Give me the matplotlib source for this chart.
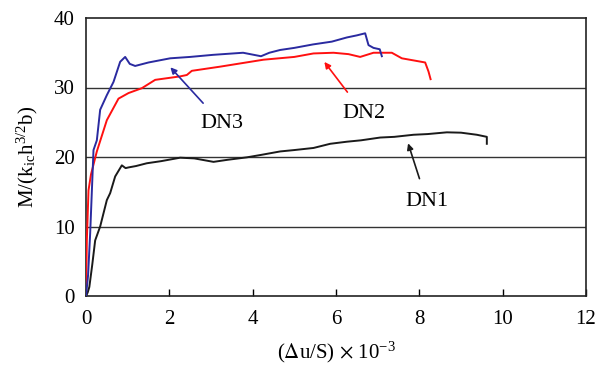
import matplotlib.pyplot as plt

plt.rcParams['font.family'] = ['Liberation Serif', 'DejaVu Serif']
plt.rcParams['mathtext.fontset'] = 'stix'

# curves
dn1_x = [0, 0.04, 0.08, 0.15, 0.22, 0.34, 0.5, 0.58, 0.7, 0.86, 0.95, 1.02, 1.2, 1.46, 1.8, 2.26, 2.6, 3.06,
         3.4, 3.86, 4.2, 4.66, 5.0, 5.46, 5.86, 6.26, 6.6, 7.06, 7.4, 7.86, 8.2, 8.66, 9.0, 9.38, 9.62, 9.62]
dn1_y = [0, 0.5, 1.3, 4.5, 8.0, 10.0, 13.8, 14.8, 17.2, 18.8, 18.4, 18.5, 18.7, 19.1, 19.4, 19.9, 19.8, 19.3,
         19.6, 19.95, 20.3, 20.8, 21.0, 21.3, 21.9, 22.2, 22.4, 22.8, 22.9, 23.2, 23.3, 23.55, 23.5, 23.2, 22.9, 21.9]

dn2_x = [0, 0.02, 0.06, 0.12, 0.26, 0.5, 0.78, 1.02, 1.34, 1.66, 2.26, 2.42, 2.54, 3.22, 4.26, 5.0, 5.46,
         5.94, 6.3, 6.58, 6.9, 7.34, 7.58, 8.14, 8.22, 8.27]
dn2_y = [0, 8.0, 15.2, 17.5, 20.8, 25.3, 28.4, 29.2, 29.9, 31.1, 31.6, 31.8, 32.4, 33.0, 34.0, 34.4, 34.9,
         35.0, 34.8, 34.4, 35.0, 35.0, 34.2, 33.6, 32.3, 31.2]

dn3_x = [0, 0.05, 0.1, 0.18, 0.26, 0.34, 0.5, 0.66, 0.82, 0.94, 1.05, 1.18, 1.5, 2.02, 2.5, 3.05, 3.77, 4.2,
         4.4, 4.66, 5.0, 5.45, 5.9, 6.26, 6.5, 6.7, 6.78, 6.9, 7.05, 7.1]
dn3_y = [0, 3.0, 9.0, 21.0, 22.4, 26.8, 28.9, 30.8, 33.7, 34.4, 33.4, 33.1, 33.6, 34.2, 34.4, 34.7, 35.0, 34.5,
         35.0, 35.4, 35.7, 36.2, 36.6, 37.2, 37.5, 37.8, 36.1, 35.7, 35.5, 34.5]

x_ticks = [0, 2, 4, 6, 8, 10, 12]
y_ticks = [0, 10, 20, 30, 40]

fig = plt.figure(figsize=(6.09, 3.65), dpi=100)
ax = fig.add_axes([86/609, 1-296/365, 500/609, 278/365])

for yv in y_ticks[1:-1]:
    ax.axhline(yv, color='#333333', lw=1.0, zorder=1)

ax.plot(dn1_x, dn1_y, color='#1a1a1a', lw=1.4, zorder=3)
ax.plot(dn2_x, dn2_y, color='#ff1010', lw=1.4, zorder=3)
ax.plot(dn3_x, dn3_y, color='#2a2aa0', lw=1.4, zorder=4)

ax.annotate('DN3', xy=(1.98, 33.2), xytext=(3.26, 24.8), ha='center', va='center', fontsize=16,
            arrowprops=dict(arrowstyle='-|>', color='#2a2aa0', lw=1.2, mutation_scale=9, shrinkA=8))
ax.annotate('DN2', xy=(5.68, 34.0), xytext=(6.66, 26.3), ha='center', va='center', fontsize=16,
            arrowprops=dict(arrowstyle='-|>', color='#ff1010', lw=1.2, mutation_scale=9, shrinkA=8))
ax.annotate('DN1', xy=(7.71, 22.35), xytext=(8.18, 13.6), ha='center', va='center', fontsize=16,
            arrowprops=dict(arrowstyle='-|>', color='#1a1a1a', lw=1.2, mutation_scale=9, shrinkA=8))

ax.set_xlim(0, 12)
ax.set_ylim(0, 40)
ax.set_xticks(x_ticks)
ax.set_yticks(y_ticks)
ax.tick_params(axis='x', direction='in', length=5, width=1, labelsize=15, pad=10)
ax.tick_params(axis='y', length=0, labelsize=15, pad=8)
for s in ax.spines.values():
    s.set_linewidth(1.2)
    s.set_color('#222222')

ax.set_xlabel(r'($\Delta$u/S) $\times$ 10$^{\mathregular{-3}}$', fontsize=15, labelpad=8)
ax.set_ylabel(r'M/(k$_{\mathregular{ic}}$h$^{\mathregular{3/2}}$b)', fontsize=15, labelpad=10)

fig.savefig('out.png', dpi=100)
